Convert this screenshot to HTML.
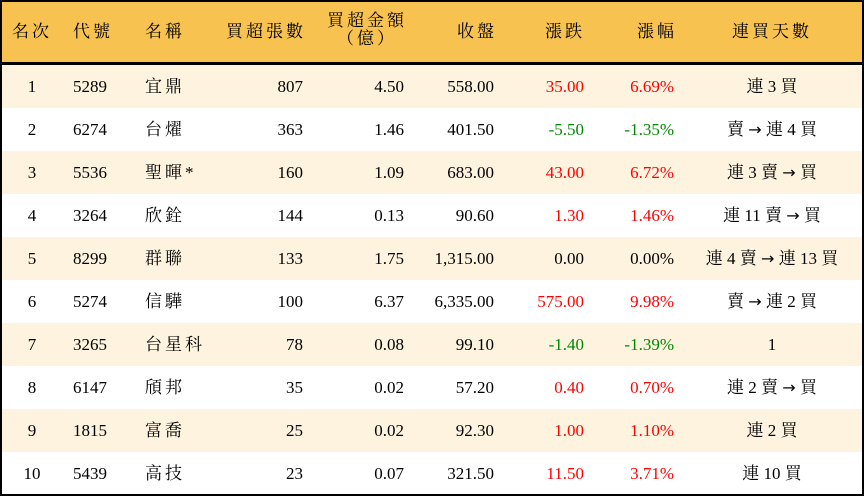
<!DOCTYPE html>
<html><head><meta charset="utf-8"><style>
body{margin:0;width:864px;height:496px;overflow:hidden;background:#fff;font-family:"Liberation Serif","Noto Serif CJK SC",serif;font-size:17px;color:#000}
#f{position:absolute;left:0;top:0;width:860px;height:492px;border:2px solid #000;overflow:hidden}
.hd{position:absolute;left:0;top:0;width:860px;height:60px;background:#F8C250;border-bottom:3px solid #000}
.hd .c{letter-spacing:3px}
.r{position:absolute;left:0;width:860px;height:43px}
.r.a{background:#FDF3DE}
.c{position:absolute;line-height:43px;white-space:nowrap}
.hd .c{line-height:60px}
.n{letter-spacing:3px}
.ar{font-family:"DejaVu Sans",sans-serif;font-size:16px}
.red{color:#f00}.grn{color:#080}
</style></head><body><div id="f">
<div class="hd">
<div class="c" style="left:10px">名次</div>
<div class="c" style="left:71px">代號</div>
<div class="c" style="left:143px">名稱</div>
<div class="c" style="right:556px">買超張數</div>
<div class="c" style="right:455px;line-height:18px;top:10px;text-align:center">買超金額<br>（億）</div>
<div class="c" style="right:365px">收盤</div>
<div class="c" style="right:277px">漲跌</div>
<div class="c" style="right:185px">漲幅</div>
<div class="c" style="left:730px">連買天數</div>
</div>
<div id="rows"></div>
</div>
<script>
var d=[
["1","5289","宜鼎","807","4.50","558.00","35.00","6.69%","連 3 買","r"],
["2","6274","台燿","363","1.46","401.50","-5.50","-1.35%","賣 → 連 4 買","g"],
["3","5536","聖暉*","160","1.09","683.00","43.00","6.72%","連 3 賣 → 買","r"],
["4","3264","欣銓","144","0.13","90.60","1.30","1.46%","連 11 賣 → 買","r"],
["5","8299","群聯","133","1.75","1,315.00","0.00","0.00%","連 4 賣 → 連 13 買",""],
["6","5274","信驊","100","6.37","6,335.00","575.00","9.98%","賣 → 連 2 買","r"],
["7","3265","台星科","78","0.08","99.10","-1.40","-1.39%","1","g"],
["8","6147","頎邦","35","0.02","57.20","0.40","0.70%","連 2 賣 → 買","r"],
["9","1815","富喬","25","0.02","92.30","1.00","1.10%","連 2 買","r"],
["10","5439","高技","23","0.07","321.50","11.50","3.71%","連 10 買","r"]];
var h="";
d.forEach(function(x,i){var cl=x[9]=="r"?"red":x[9]=="g"?"grn":"";
var t=x[8].replace("→",'<span class="ar">→</span>');
h+='<div class="r'+(i%2==0?' a':'')+'" style="top:'+(63+i*43)+'px">'+
'<div class="c" style="left:0;width:60px;text-align:center">'+x[0]+'</div>'+
'<div class="c" style="left:71px">'+x[1]+'</div>'+
'<div class="c n" style="left:143px">'+x[2]+'</div>'+
'<div class="c" style="right:559px">'+x[3]+'</div>'+
'<div class="c" style="right:458px">'+x[4]+'</div>'+
'<div class="c" style="right:368px">'+x[5]+'</div>'+
'<div class="c '+cl+'" style="right:278px">'+x[6]+'</div>'+
'<div class="c '+cl+'" style="right:188px">'+x[7]+'</div>'+
'<div class="c" style="left:680px;width:180px;text-align:center">'+t+'</div></div>';});
document.getElementById("rows").innerHTML=h;
</script></body></html>
